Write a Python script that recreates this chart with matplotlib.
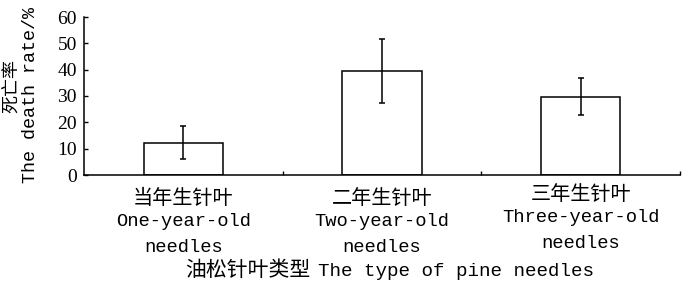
import matplotlib
matplotlib.use('Agg')
import matplotlib.pyplot as plt
import matplotlib.transforms as mtrans

# data
cats_cn = ['当年生针叶', '二年生针叶', '三年生针叶']
cats_en1 = ['One-year-old', 'Two-year-old', 'Three-year-old']
cats_en2 = ['needles', 'needles', 'needles']
death_rate = [12.2, 39.5, 29.8]
sd = [6.3, 12.2, 7.0]
yticks = [0, 10, 20, 30, 40, 50, 60]

W, H = 700, 288
CJK = 'Noto Sans CJK SC'
MONO = 'Liberation Mono'
SERIF = 'Liberation Serif'

def fx(px):
    return px / W

def fy(py):
    return 1 - py / H

fig = plt.figure(figsize=(7, 2.88), dpi=100)
ax = fig.add_axes([fx(84), fy(175), fx(680) - fx(84), fy(17) - fy(175)])

pos = [i + 0.5 for i in range(len(death_rate))]
ax.bar(pos, death_rate, width=0.4, color='white', edgecolor='black', linewidth=1.1)
ax.errorbar(pos, death_rate, yerr=sd, fmt='none', ecolor='black',
            elinewidth=1.1, capsize=2.3, capthick=1.1)

ax.set_xlim(0, 3)
ax.set_ylim(0, 60)
ax.set_yticks(yticks)
ax.set_yticklabels([str(v) for v in yticks], family=SERIF, fontsize=14)
ax.set_xticks([1, 2, 3])
ax.set_xticklabels([])
ax.tick_params(axis='y', direction='in', length=3, width=1, pad=5)
ax.tick_params(axis='x', direction='in', length=3, width=1)
for s in ['top', 'right']:
    ax.spines[s].set_visible(False)
for s in ['left', 'bottom']:
    ax.spines[s].set_linewidth(1.1)

# category labels, three lines each
tr = mtrans.blended_transform_factory(ax.transData, fig.transFigure)
for i, x in enumerate(pos):
    shift = -4 if i == 2 else 0
    ax.text(x, fy(198 + shift), cats_cn[i], transform=tr, ha='center', va='center',
            family=CJK, fontsize=14.5)
    ax.text(x, fy(222 + shift), cats_en1[i], transform=tr, ha='center', va='center',
            family=MONO, fontsize=13.5)
    ax.text(x, fy(247 + shift), cats_en2[i], transform=tr, ha='center', va='center',
            family=MONO, fontsize=13.5)

# x axis title
fig.text(fx(310), fy(270), '油松针叶类型', ha='right', va='center', family=CJK, fontsize=15)
fig.text(fx(318), fy(271), 'The type of pine needles', ha='left', va='center',
         family=MONO, fontsize=13.8)

# y axis title, two lines
fig.text(fx(12), fy(86), '死亡率', ha='center', va='center', rotation=90,
         family=CJK, fontsize=13)
fig.text(fx(31), fy(95), 'The death rate/%', ha='center', va='center', rotation=90,
         family=MONO, fontsize=13.2)

fig.savefig('out.png', dpi=100)
